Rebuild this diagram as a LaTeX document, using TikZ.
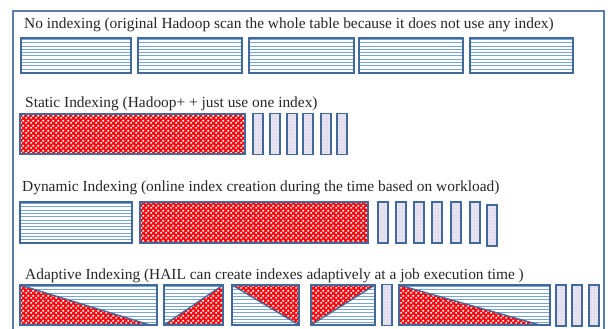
\documentclass[tikz,border=0pt]{standalone}
\usepackage{fontspec}
\setmainfont{Liberation Serif}
\newfontfamily\lblfont{Liberation Serif}
\usetikzlibrary{patterns}
\definecolor{edge}{RGB}{65,105,155}
\definecolor{frame}{RGB}{90,125,170}
\definecolor{stripe}{RGB}{120,165,215}
\definecolor{barfill}{RGB}{232,228,242}
\definecolor{bardot}{RGB}{175,165,205}
\definecolor{chk}{RGB}{250,10,15}
\pgfdeclarepatternformonly{wdots}{\pgfpointorigin}{\pgfqpoint{5pt}{5pt}}{\pgfqpoint{5pt}{5pt}}{%
  \pgfpathrectangle{\pgfqpoint{0.3pt}{0.3pt}}{\pgfqpoint{2pt}{2pt}}%
  \pgfpathrectangle{\pgfqpoint{2.8pt}{2.8pt}}{\pgfqpoint{2pt}{2pt}}%
  \pgfusepath{fill}}
\newcommand\stripebox[4]{%
  \begin{scope}
    \clip (#1,#2) rectangle (#3,#4);
    \fill[white] (#1,#2) rectangle (#3,#4);
    \foreach \yy in {1.5,4.8,...,50} \draw[stripeline] (#1,#2+\yy) -- (#3,#2+\yy);
  \end{scope}}
\newcommand\checkfill[1]{%
  \fill[chk] #1;
  \fill[pattern=wdots, pattern color=white] #1;}
\newcommand\idxbar[2]{%
  \fill[barfill] (#1,#2) rectangle (#1+10,#2+41);
  \fill[pattern=dots, pattern color=bardot] (#1,#2) rectangle (#1+10,#2+41);
  \draw[boxedge] (#1,#2) rectangle (#1+10,#2+41);}
\begin{document}
\begin{tikzpicture}[x=1pt,y=-1pt,
  boxedge/.style={draw=edge, line width=1.3pt},
  stripeline/.style={draw=stripe, line width=1pt},
  label/.style={font=\lblfont\fontsize{15.4pt}{17pt}\selectfont, anchor=base west, inner sep=0pt, text=black!85}]
\useasboundingbox (0,0) rectangle (608,329);
\fill[white] (0,0) rectangle (608,329);
\draw[draw=frame, line width=1.4pt] (13,11) rectangle (604,340);

% Row 1
\node[label] (t1) at (24,29) {No indexing (original Hadoop scan the whole table because it does not use any index)};
\foreach \a/\b in {21/131,138/242,249/354,359/463,470/573}{
  \stripebox{\a}{38}{\b}{73}
  \draw[boxedge] (\a,38) rectangle (\b,73);
}

% Row 2
\node[label] (t2) at (25,107) {Static Indexing (Hadoop+ + just use one index)};
\checkfill{(20,114) rectangle (245,154)}
\draw[boxedge] (20,114) rectangle (245,154);
\foreach \a in {253,270,287,303,321,337}{\idxbar{\a}{113.5}}

% Row 3
\node[label] (t3) at (22,191) {Dynamic Indexing (online index creation during the time based on workload)};
\stripebox{20}{202}{132}{243}
\draw[boxedge] (20,202) rectangle (132,243);
\checkfill{(140,202) rectangle (368,243)}
\draw[boxedge] (140,202) rectangle (368,243);
\foreach \a in {378,396,414,432,451,470}{\idxbar{\a}{202}}
\idxbar{487}{205}

% Row 4
\node[label] (t4) at (25,279) {Adaptive Indexing (HAIL can create indexes adaptively at a job execution time )};
% A
\stripebox{20}{285}{157}{325}
\checkfill{(20,285) -- (20,325) -- (150,325) -- cycle}
\draw[boxedge] (20,285) -- (150,325);
\draw[boxedge] (20,285) rectangle (157,325);
% B
\stripebox{164}{285}{223}{325}
\checkfill{(164,325) -- (223,325) -- (223,285) -- cycle}
\draw[boxedge] (164,325) -- (223,285);
\draw[boxedge] (164,285) rectangle (223,325);
% C
\stripebox{232}{285}{299}{325}
\checkfill{(232,285) -- (299,285) -- (299,325) -- cycle}
\draw[boxedge] (232,285) -- (299,325);
\draw[boxedge] (232,285) rectangle (299,325);
% D
\stripebox{311}{285}{375}{325}
\checkfill{(311,285) -- (375,285) -- (311,325) -- cycle}
\draw[boxedge] (375,285) -- (311,325);
\draw[boxedge] (311,285) rectangle (375,325);
% bar
\idxbar{382}{284.5}
% E
\stripebox{399}{285}{550}{325}
\checkfill{(399,285) -- (399,325) -- (540,325) -- cycle}
\draw[boxedge] (399,285) -- (540,325);
\draw[boxedge] (399,285) rectangle (550,325);
\foreach \a in {556,572,589}{\idxbar{\a}{285}}
\end{tikzpicture}
\end{document}
